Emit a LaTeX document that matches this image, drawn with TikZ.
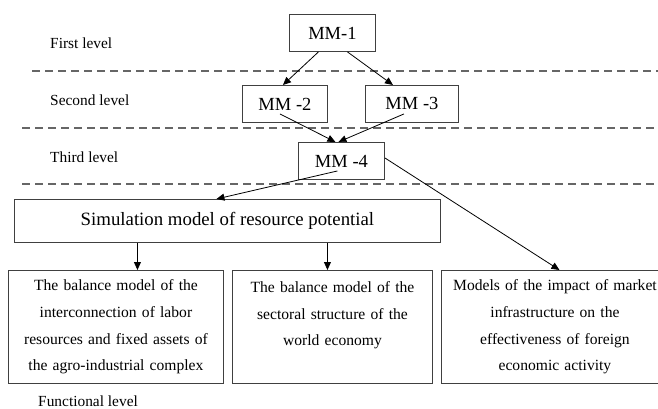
\documentclass[tikz,border=0pt]{standalone}
\usepackage{fontspec}
\setmainfont{Liberation Serif}
\usetikzlibrary{calc,arrows.meta}

\tikzset{
	mmbox/.style={draw=black!75, line width=0.9pt, anchor=north west, inner sep=0pt,
		minimum height=37pt, font=\fontsize{18.5}{20}\selectfont},
	funcbox/.style={draw=black!75, line width=0.9pt, anchor=north west, inner xsep=4pt,
		minimum height=113pt, align=center, font=\fontsize{15.6}{26.7}\selectfont},
	lvl/.style={anchor=west, inner sep=0pt, font=\fontsize{15.4}{17}\selectfont},
	levelline/.style={draw=black!60, line width=1.3pt, dash pattern=on 8pt off 5pt},
	arr/.style={-{Triangle[length=8pt,width=7pt]}, line width=0.8pt}
}

\begin{document}
\begin{tikzpicture}[x=1pt,y=-1pt]

	\useasboundingbox (0,0) rectangle (658,409);

	% level separators
	\draw[levelline] (32,71) -- (658,71);
	\draw[levelline] (22,128) -- (658,128);
	\draw[levelline] (22,184) -- (658,184);

	% level names
	\node[lvl] (lvl1) at (50,43) {First level};
	\node[lvl] (lvl2) at (50,100) {Second level};
	\node[lvl] (lvl3) at (50,157) {Third level};
	\node[lvl] (lvl4) at (38,401) {Functional level};

	% models
	\node[mmbox, minimum width=86pt] (mm1) at (289,14) {MM-1};
	\node[mmbox, minimum width=85pt] (mm2) at (242,85) {MM -2\hspace{9pt}};
	\node[mmbox, minimum width=93pt] (mm3) at (365,85) {MM -3\hspace{16pt}};
	\node[mmbox, minimum width=86pt] (mm4) at (298,142) {MM -4\hspace{7pt}};

	\node[draw=black!75, line width=0.9pt, anchor=north west, inner sep=0pt,
		minimum width=426pt, minimum height=43pt, font=\fontsize{18.8}{20}\selectfont]
		(sim) at (14,199) {Simulation model of resource potential};

	% functional level
	\node[funcbox, text width=207pt] (fA) at (8,270) {The balance model of the\\
		interconnection of labor\\ resources and fixed assets of\\ the agro-industrial complex};
	\node[funcbox, text width=192pt] (fB) at (232,270) {The balance model of the\\
		sectoral structure of the\\ world economy\\ ~};
	\node[funcbox, text width=219pt] (fC) at (441,270) {Models of the impact of market\\
		infrastructure on the\\ effectiveness of foreign\\ economic activity};

	% arrows
	\draw[arr] ($(mm1.south)+(-14,0)$) -- ($(mm2.north)+(-2,0)$);
	\draw[arr] ($(mm1.south)+(15,0)$) -- ($(mm3.north)+(-19,0)$);
	\draw[arr] ($(mm2.center)+(-5,10)$) -- ($(mm4.north)+(-6,0)$);
	\draw[arr] ($(mm3.center)+(-8,10)$) -- ($(mm4.north)+(-3,0)$);
	\draw[arr] ($(mm4.center)+(-4,10)$) -- ($(sim.north)+(-11,0)$);
	\draw[arr] ($(mm4.east)+(0,-3)$) -- ($(fC.north)+(4.5,0)$);

	\coordinate (tA) at ($(fA.north)+(21.5,0)$);
	\coordinate (tB) at ($(fB.north)+(-5,0)$);
	\draw[arr] (sim.south -| tA) -- (tA);
	\draw[arr] (sim.south -| tB) -- (tB);

\end{tikzpicture}
\end{document}
